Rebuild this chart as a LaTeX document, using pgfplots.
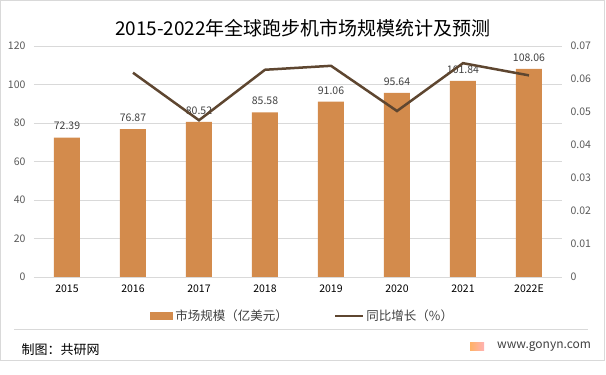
\documentclass[border=0pt]{standalone}
\usepackage{pgfplots}
\pgfplotsset{compat=1.18}
\usepackage{fontspec}
\setmainfont{Noto Sans CJK SC}
\definecolor{barc}{HTML}{D38B4C}
\definecolor{linec}{HTML}{5E4630}
\definecolor{gridc}{HTML}{D9D9D9}
\definecolor{tickc}{HTML}{595959}
\definecolor{labc}{HTML}{404040}
\begin{document}
\begin{tikzpicture}
\path[use as bounding box] (0pt,0pt) rectangle (606pt,375pt);
\draw[gridc,line width=0.8pt] (0.5pt,15pt) rectangle (604.5pt,374.5pt);
\node[font=\fontsize{19}{22}\selectfont, text=black] at (303pt,347pt) {2015-2022年全球跑步机市场规模统计及预测};
\begin{axis}[
  at={(34pt,98pt)}, anchor=south west, scale only axis,
  width=528pt, height=231pt,
  xmin=-0.5, xmax=7.5, ymin=0, ymax=120,
  xtick={0,...,7},
  xticklabels={2015,2016,2017,2018,2019,2020,2021,2022E},
  ytick={0,20,...,120},
  axis line style={draw=none},
  tick style={draw=none},
  ymajorgrids, grid style={gridc, line width=0.8pt},
  yticklabel style={font=\fontsize{10.5}{12}\selectfont, text=tickc, xshift=-5pt},
  xticklabel style={font=\fontsize{10.5}{12}\selectfont, text=black, yshift=-4pt},
  /pgf/number format/assume math mode=true,
  legend columns=2,
  legend style={at={(axis description cs:0.509,-0.169)}, anchor=center, draw=none, fill=none,
    font=\fontsize{12.5}{14}\selectfont, text=labc,
    /tikz/every even column/.append style={column sep=44pt}},
]
\addplot[ybar, bar width=26pt, fill=barc, draw=none,
  nodes near coords,
  nodes near coords style={font=\fontsize{10.5}{12}\selectfont, text=labc, yshift=4pt,
    /pgf/number format/.cd, fixed, precision=2, fixed zerofill, assume math mode=true},
  legend image code/.code={\fill[barc] (0pt,-4pt) rectangle (23pt,4pt);}]
  coordinates {(0,72.39) (1,76.87) (2,80.52) (3,85.58) (4,91.06) (5,95.64) (6,101.84) (7,108.06)};
\addlegendentry{市场规模（亿美元）}
\addlegendimage{linec, line width=2.5pt, legend image code/.code={\draw[linec,line width=2.5pt] (0pt,0pt) -- (28pt,0pt);}}
\addlegendentry{同比增长（\%）}
\end{axis}
\begin{axis}[
  at={(34pt,98pt)}, anchor=south west, scale only axis,
  width=528pt, height=231pt,
  xmin=-0.5, xmax=7.5, ymin=0, ymax=0.07,
  axis x line=none,
  axis y line*=right,
  axis line style={draw=none},
  tick style={draw=none},
  scaled y ticks=false,
  ytick={0,0.01,0.02,0.03,0.04,0.05,0.06,0.07},
  yticklabels={0,0.01,0.02,0.03,0.04,0.05,0.06,0.07},
  yticklabel style={font=\fontsize{10.5}{12}\selectfont, text=tickc, xshift=5pt},
]
\addplot[linec, line width=2.5pt, mark=none]
  coordinates {(1,0.0619) (2,0.0475) (3,0.0628) (4,0.0640) (5,0.0503) (6,0.0648) (7,0.0611)};
\end{axis}
\draw[gridc,line width=0.8pt] (14pt,46pt) -- (588pt,46pt);
\node[anchor=west, font=\fontsize{13}{15}\selectfont, text=black] at (18pt,25pt) {制图：共研网};
\shade[left color=orange!60, right color=red!30] (470pt,24pt) rectangle (484pt,32pt);
\node[anchor=west, font=\fontsize{12}{14}\selectfont, text=labc, inner sep=0pt] at (497pt,28pt) {www.gonyn.com};
\end{tikzpicture}
\end{document}
